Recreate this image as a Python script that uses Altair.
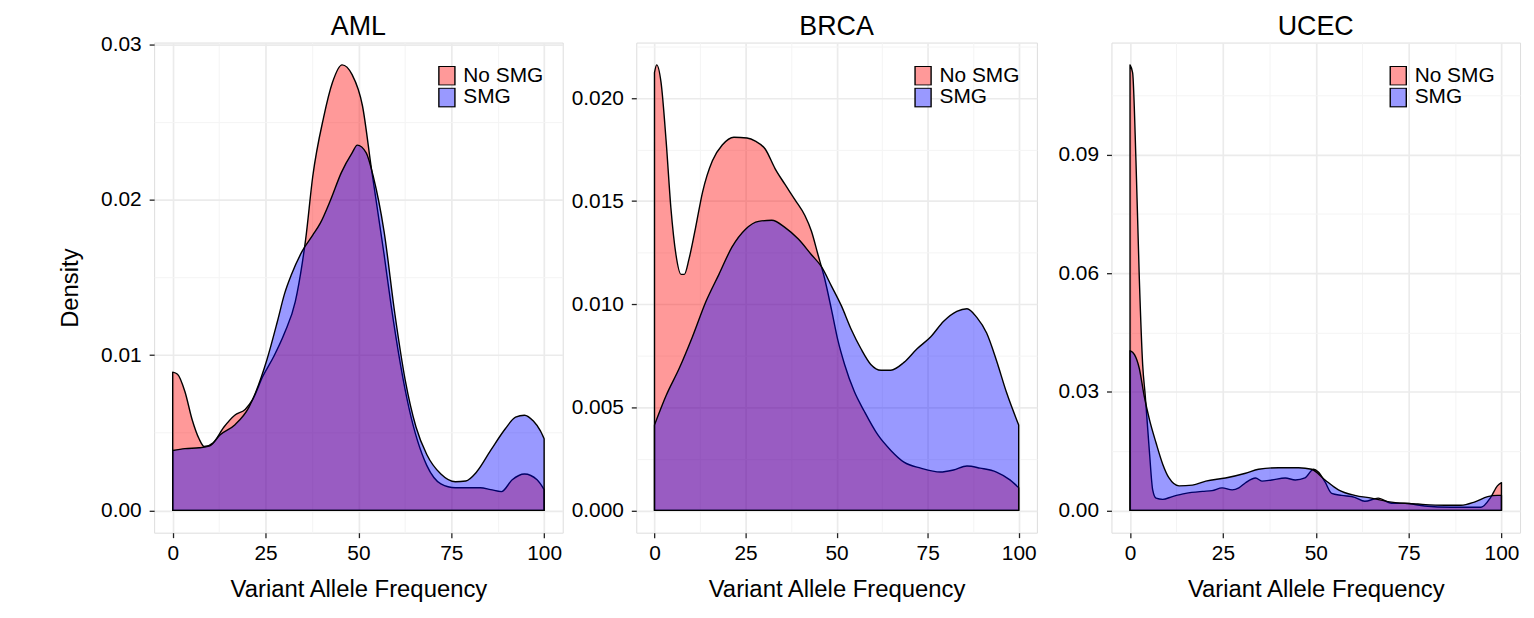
import altair as alt
import pandas as pd

FONT = "Liberation Sans"
GROUPS = ["No SMG", "SMG"]
COLORS = ["#FF0000", "#0000FF"]
LEGEND_COLORS = ["#FF9999", "#9999FF"]
X_MAJOR = [0, 25, 50, 75, 100]
X_MINOR = [12.5, 37.5, 62.5, 87.5]
X_TITLE = "Variant Allele Frequency"
Y_TITLE = "Density"
PANELS = ["AML", "BRCA", "UCEC"]

# ---------------- AML ----------------
aml_nosmg_x = [0, 1.3, 3.3, 5.2, 7.1, 8.5, 10.9, 13.8, 16.7, 19.5, 21.5, 24.3, 27.2, 30.1, 33.0, 34.9,
               35.8, 37.7, 40.6, 43.0, 45.6, 48.3, 51.1, 53.5, 56.9, 58.8, 63.6, 68.4, 72.2, 76.1,
               79.9, 82.8, 85.6, 88.5, 91.4, 94.7, 98.1, 100]
aml_nosmg_y = [0.0089, 0.00877, 0.00764, 0.00587, 0.00461, 0.00411, 0.00436, 0.00537, 0.00613, 0.0065,
               0.00713, 0.00865, 0.00991, 0.01142, 0.01344, 0.01596, 0.01747, 0.0215, 0.02528, 0.02755,
               0.02869, 0.02806, 0.02604, 0.0220, 0.0165, 0.0132, 0.0066, 0.0029, 0.00171, 0.00146,
               0.00146, 0.00146, 0.00134, 0.00121, 0.00197, 0.00234, 0.00197, 0.00134]
aml_smg_x = [0, 3.3, 7.1, 10.0, 12.8, 16.7, 20.5, 22.4, 25.3, 28.2, 30.1, 32.0, 34.9, 37.7, 39.7, 42.5,
             45.4, 48.3, 49.7, 52.1, 54.0, 56.9, 59.8, 62.6, 65.5, 68.4, 72.2, 76.1, 78.9, 81.8, 85.6,
             89.5, 92.3, 94.7, 97.1, 99.0, 100]
aml_smg_y = [0.00386, 0.00398, 0.00403, 0.00416, 0.00487, 0.0055, 0.00663, 0.00764, 0.00965, 0.01218,
             0.01394, 0.0152, 0.01671, 0.01772, 0.01848, 0.01999, 0.02175, 0.02302, 0.02352, 0.02302,
             0.0215, 0.01797, 0.01268, 0.00839, 0.00537, 0.0036, 0.00234, 0.00184, 0.00189, 0.00247,
             0.00386, 0.00524, 0.006, 0.00613, 0.00575, 0.00512, 0.00461]
aml_y_major = [0, 0.01, 0.02, 0.03]
aml_y_minor = [0.005, 0.015, 0.025]

# ---------------- BRCA ----------------
brca_nosmg_x = [0, 0.6, 1.8, 3.2, 4.5, 5.9, 7.3, 8.2, 9.5, 11.3, 13.2, 15.9, 18.6, 21.8, 25.4, 27.7,
                30.4, 33.1, 35.8, 38.6, 41.3, 43.1, 44.9, 46.7, 48.6, 50.4, 52.2, 54.9, 57.6, 61.3,
                64.9, 68.5, 73.1, 78.5, 82.1, 85.8, 89.4, 93.9, 97.6, 100]
brca_nosmg_y = [0.02123, 0.02161, 0.02076, 0.01791, 0.01468, 0.0124, 0.01145, 0.01145, 0.01221, 0.01373,
                0.01544, 0.01696, 0.01772, 0.0181, 0.01806, 0.01791, 0.01753, 0.01658, 0.01582, 0.01506,
                0.0143, 0.01354, 0.0124, 0.01126, 0.00974, 0.00822, 0.00708, 0.00575, 0.00481, 0.00367,
                0.00291, 0.00234, 0.00205, 0.00186, 0.00196, 0.00215, 0.00205, 0.00186, 0.00148, 0.0011]
brca_smg_x = [0, 3.2, 6.8, 10.4, 14.1, 17.7, 21.3, 25.0, 28.6, 32.2, 35.8, 39.5, 43.1, 45.8, 48.6, 51.3,
              54.0, 56.7, 59.4, 62.2, 64.9, 68.5, 72.1, 75.8, 79.4, 83.0, 85.8, 88.5, 91.2, 93.9, 96.6, 100]
brca_smg_y = [0.00414, 0.00557, 0.00689, 0.00841, 0.01012, 0.01145, 0.01278, 0.01364, 0.01402, 0.01407,
              0.01373, 0.01316, 0.0124, 0.01183, 0.01088, 0.00993, 0.00879, 0.00784, 0.00708, 0.0068,
              0.0068, 0.00718, 0.00784, 0.00841, 0.00917, 0.00965, 0.00978, 0.00936, 0.0086, 0.00727,
              0.00575, 0.00414]
brca_y_major = [0, 0.005, 0.01, 0.015, 0.02]
brca_y_minor = [0.0025, 0.0075, 0.0125, 0.0175, 0.0225]

# ---------------- UCEC ----------------
ucec_nosmg_x = [0, 0.7, 1.6, 2.5, 3.4, 4.1, 5.2, 6.1, 7.0, 8.8, 11.4, 15.0, 19.5, 22.1, 24.8, 27.5, 29.3,
                31.1, 33.8, 35.5, 38.2, 41.8, 44.5, 47.1, 49.4, 50.7, 52.5, 54.3, 57.0, 60.5, 63.2, 66.8,
                70.4, 73.9, 79.3, 86.4, 94.5, 97.1, 98.9, 100]
ucec_nosmg_y = [0.1127, 0.1107, 0.0884, 0.0587, 0.0369, 0.029, 0.0151, 0.0052, 0.0031, 0.0028, 0.0035,
                0.0043, 0.0048, 0.005, 0.0057, 0.0052, 0.0057, 0.007, 0.0082, 0.0074, 0.0077, 0.0082,
                0.0077, 0.0082, 0.0104, 0.0097, 0.0072, 0.0043, 0.0038, 0.0033, 0.0023, 0.0031, 0.0018,
                0.0018, 0.0011, 0.0008, 0.0008, 0.0033, 0.0062, 0.007]
ucec_smg_x = [0, 1.2, 2.5, 3.8, 5.2, 7.0, 8.8, 10.5, 13.2, 16.8, 20.4, 25.7, 31.1, 34.6, 40.0, 45.4, 48.9,
              52.5, 56.1, 60.5, 65.0, 70.4, 77.5, 84.6, 89.1, 92.7, 96.3, 98.9, 100]
ucec_smg_y = [0.0404, 0.0394, 0.0359, 0.029, 0.0231, 0.0171, 0.0117, 0.0082, 0.0062, 0.0064, 0.0074,
              0.0082, 0.0094, 0.0104, 0.0108, 0.0108, 0.0104, 0.0077, 0.0052, 0.0038, 0.0031, 0.0021,
              0.0016, 0.0013, 0.0013, 0.0021, 0.0035, 0.0038, 0.0038]
ucec_y_major = [0, 0.03, 0.06, 0.09]
ucec_y_minor = [0.015, 0.045, 0.075, 0.105]

HEIGHT = 493
KEY_SHAPE = "M-0.85,-1H0.85V1H-0.85Z"


def js_list(vals):
    return "[" + ",".join(repr(float(v)) for v in vals) + "]"


def grid_props(test):
    return dict(
        grid=True,
        gridColor={"condition": {"test": test, "value": "#F4F4F4"}, "value": "#EBEBEB"},
        gridWidth={"condition": {"test": test, "value": 1.0}, "value": 1.7},
        tickOpacity={"condition": {"test": test, "value": 0}, "value": 1},
        tickColor="#222222", tickSize=5, tickWidth=1.3, domain=False,
        labelFont=FONT, labelFontSize=21, labelColor="black", labelOverlap=False, labelFlush=False,
        titleFont=FONT, titleFontSize=24, titleFontWeight="normal", titleColor="black",
    )


def panel(name, xr, yr, xb, yb, y_major, y_minor, fmt, width, lx, ly, y_title, min_ext):
    df = pd.concat([
        pd.DataFrame({"vaf": xr, "density": yr, "group": GROUPS[0]}),
        pd.DataFrame({"vaf": xb, "density": yb, "group": GROUPS[1]}),
    ], ignore_index=True)
    m = max(max(yr), max(yb))
    lo, hi = -0.05 * m, 1.05 * m
    ymin = [v for v in y_minor if lo <= v <= hi]
    ymaj = [v for v in y_major if lo <= v <= hi]
    ytest = f"indexof({js_list(ymin)}, datum.value) >= 0"
    xtest = f"indexof({js_list(X_MINOR)}, datum.value) >= 0"

    x_axis = alt.Axis(
        values=sorted(X_MAJOR + X_MINOR),
        labelExpr=f"{xtest} ? '' : format(datum.value, 'd')",
        labelPadding=5, titlePadding=14,
        **grid_props(xtest),
    )
    y_kw = dict(
        values=sorted(ymaj + ymin),
        labelExpr=f"{ytest} ? '' : format(datum.value, '{fmt}')",
        labelPadding=8, titlePadding=18,
        **grid_props(ytest),
    )
    if min_ext:
        y_kw.update(minExtent=min_ext)
    y_axis = alt.Axis(**y_kw)

    x_scale = alt.Scale(domain=[-5, 105], nice=False, zero=False)
    y_scale = alt.Scale(domain=[lo, hi], nice=False, zero=False)

    areas = alt.Chart(df).mark_area(
        interpolate="monotone", fillOpacity=0.4, stroke="black", strokeWidth=1.4,
        strokeOpacity=1, strokeJoin="round",
    ).encode(
        x=alt.X("vaf:Q", title=X_TITLE, scale=x_scale, axis=x_axis),
        y=alt.Y("density:Q", title=y_title, stack=None, scale=y_scale, axis=y_axis),
        color=alt.Color("group:N", scale=alt.Scale(domain=GROUPS, range=COLORS), legend=None),
    )

    legend = alt.Legend(
        title=None, orient="none", legendX=lx, legendY=ly, padding=0,
        symbolType=KEY_SHAPE, symbolSize=361, symbolStrokeColor="black", symbolStrokeWidth=1.4,
        symbolOpacity=1, clipHeight=19.5,
        labelFont=FONT, labelFontSize=21, labelColor="black", labelOffset=6, rowPadding=0,
    )
    legend_layer = alt.Chart(df).mark_area(
        interpolate="monotone", fillOpacity=0, strokeOpacity=0,
    ).encode(
        x=alt.X("vaf:Q", title=X_TITLE, scale=x_scale),
        y=alt.Y("density:Q", title=y_title, stack=None, scale=y_scale),
        fill=alt.Fill("group:N", scale=alt.Scale(domain=GROUPS, range=LEGEND_COLORS), legend=legend),
    )

    title_layer = alt.Chart(pd.DataFrame({"panel": [name]})).mark_text(
        font=FONT, fontSize=27, color="black", align="center", baseline="top",
    ).encode(
        x=alt.value(width / 2), y=alt.value(-29), text="panel:N",
    )

    return alt.layer(areas, legend_layer, title_layer).properties(width=width, height=HEIGHT)


aml = panel(PANELS[0], aml_nosmg_x, aml_nosmg_y, aml_smg_x, aml_smg_y, aml_y_major, aml_y_minor,
            ".2f", 411, 284, 23.5, Y_TITLE, None)
brca = panel(PANELS[1], brca_nosmg_x, brca_nosmg_y, brca_smg_x, brca_smg_y, brca_y_major, brca_y_minor,
             ".3f", 403, 278, 23.5, "", None)
ucec = panel(PANELS[2], ucec_nosmg_x, ucec_nosmg_y, ucec_smg_x, ucec_smg_y, ucec_y_major, ucec_y_minor,
             ".2f", 411, 278, 23.5, "", 67)

chart = alt.hconcat(aml, brca, ucec, spacing=6).resolve_scale(
    x="independent", y="independent"
).resolve_legend(fill="independent").properties(
    padding={"left": 50, "top": 2, "right": 5, "bottom": 5}
).configure_view(strokeWidth=0).configure(background="white")

chart.save("out.html", embed_options={"renderer": "svg", "actions": False})
